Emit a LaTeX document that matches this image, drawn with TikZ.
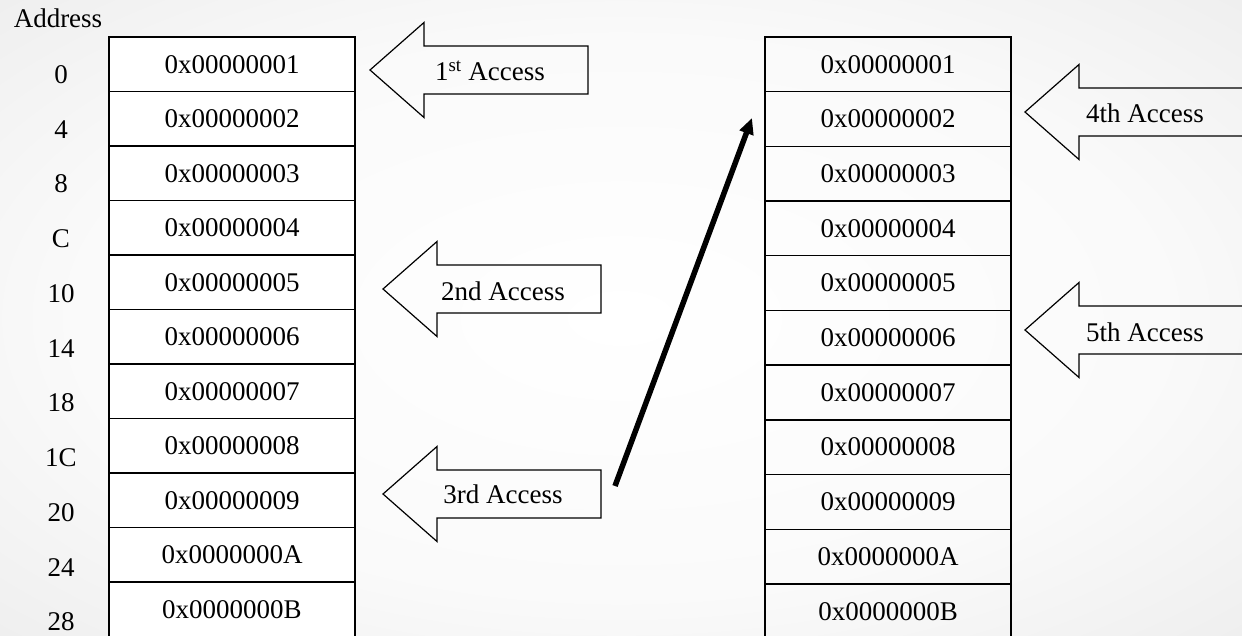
\documentclass[tikz,border=0pt]{standalone}
\usepackage{fontspec}
\setmainfont{Liberation Serif}
\usetikzlibrary{arrows.meta, positioning}
\pgfdeclareradialshading{bgshade}{\pgfpoint{0bp}{0bp}}{color(0bp)=(white); color(22bp)=(white!98!black); color(50bp)=(white!89!black); color(71bp)=(white!85!black)}

\begin{document}
\begin{tikzpicture}[x=1pt, y=-1pt, font=\fontsize{27}{32}\selectfont,
  cell/.style={rectangle, draw, line width=1.2pt, minimum width=246pt, minimum height=54.5pt, inner sep=0pt, outer sep=0pt},
  leftcell/.style={cell, fill=white},
  addr/.style={inner sep=0pt},
  blockarrow/.style={draw, line width=1.2pt, line join=miter},
  jumparrow/.style={-{Triangle[length=16pt,width=14pt]}, line width=5.5pt}
]
\clip (0,0) rectangle (1242,636);
\shade[shading=bgshade] (0,0) rectangle (1242,636);
% Memory
\node[addr] (addrtitle) at (58,18) {Address};
\foreach \v [count=\i from 0] in {0x00000001,0x00000002,0x00000003,0x00000004,0x00000005,0x00000006,0x00000007,0x00000008,0x00000009,0x0000000A,0x0000000B}{
  \node[leftcell] (l\i) at (232,{64.25+54.5*\i}) {\v};
  \node[cell] (r\i) at (888,{64.25+54.7*\i}) {\v};
}
\foreach \a [count=\i from 0] in {0,4,8,C,10,14,18,1C,20,24,28}
  \node[addr] (a\i) at (61,{74.5+54.75*\i}) {\a};
% Accesses
\foreach \tx/\ty/\rx in {370/70/588, 383/289/601, 383/494/601, 1025/112/1270, 1025/330/1270}
  \draw[blockarrow] (\tx,\ty) -- ++(54,-47.5) -- ++(0,23.5) -- (\rx,{\ty-24})
    -- (\rx,{\ty+24}) -- ({\tx+54},{\ty+24}) -- ++(0,23.5) -- cycle;
\node (acc1) at (490,71) {1\textsuperscript{st} Access};
\node (acc2) at (503,291) {2nd Access};
\node (acc3) at (503,494) {3rd Access};
\node (acc4) at (1145,113) {4th Access};
\node (acc5) at (1145,332) {5th Access};
% Jump back
\coordinate (jumpfrom) at (615,486);
\coordinate (jumpto) at (752,118);
\draw[jumparrow] (jumpfrom) -- (jumpto);
\end{tikzpicture}
\end{document}
